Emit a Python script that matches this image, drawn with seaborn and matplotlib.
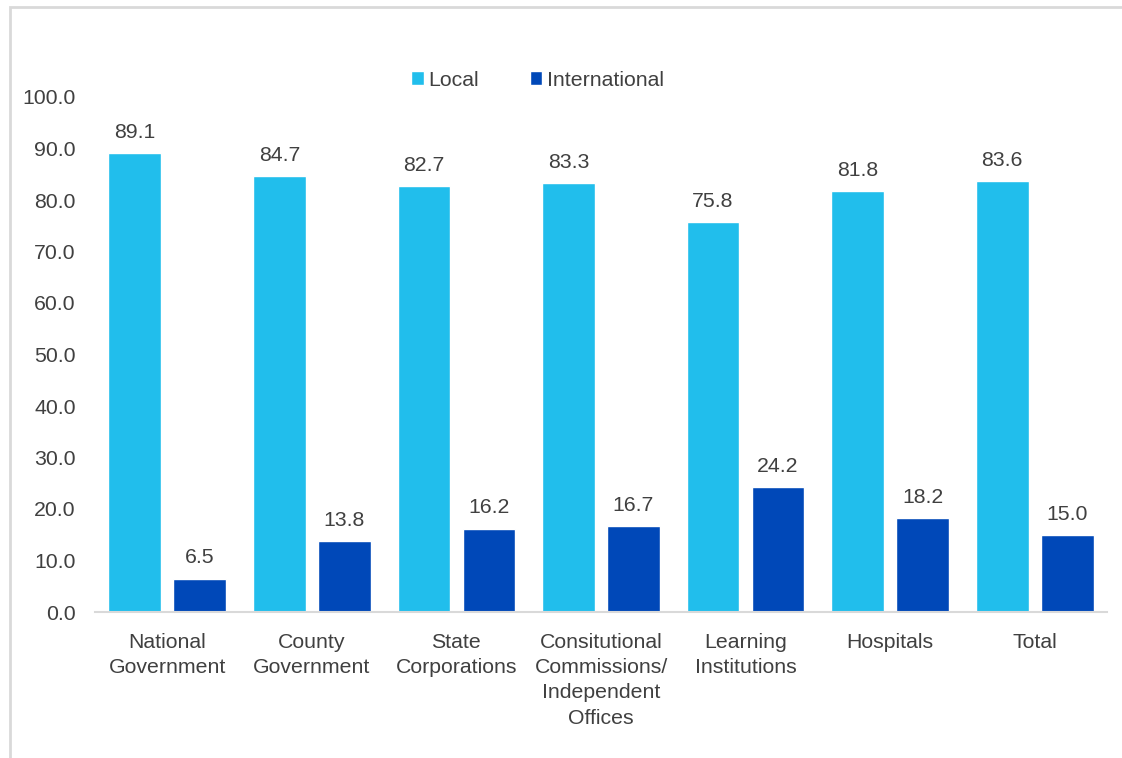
import matplotlib
matplotlib.use("Agg")
import matplotlib.pyplot as plt
import seaborn as sns
import pandas as pd
from matplotlib.patches import Rectangle

# Share of staff by origin, per sector
categories = [
    "National\nGovernment",
    "County\nGovernment",
    "State\nCorporations",
    "Consitutional\nCommissions/\nIndependent\nOffices",
    "Learning\nInstitutions",
    "Hospitals",
    "Total",
]
local = [89.1, 84.7, 82.7, 83.3, 75.8, 81.8, 83.6]
international = [6.5, 13.8, 16.2, 16.7, 24.2, 18.2, 15.0]
series_names = ["Local", "International"]
yticks = [0, 10, 20, 30, 40, 50, 60, 70, 80, 90, 100]

df = pd.DataFrame({
    "Sector": categories * 2,
    "Origin": [series_names[0]] * len(categories) + [series_names[1]] * len(categories),
    "Value": local + international,
})

sns.set_theme(style="white")
plt.rcParams["font.family"] = ["Liberation Sans", "DejaVu Sans"]
text_color = "#404040"
fs = 15.3

fig = plt.figure(figsize=(11.22, 7.58), dpi=100)
ax = fig.add_axes([95 / 1122, 1 - 612 / 758, 1012 / 1122, (612 - 97) / 758])

palette = {"Local": "#21BEEC", "International": "#0048B8"}
sns.barplot(data=df, x="Sector", y="Value", hue="Origin", order=categories,
            hue_order=series_names, palette=palette, width=0.9, gap=0.19,
            saturation=1, ax=ax, legend=True)

for cont in ax.containers:
    ax.bar_label(cont, fmt="%.1f", padding=8, fontsize=fs, color=text_color)

ax.set_xlim(-0.5, len(categories) - 0.5)
ax.set_ylim(0, 100)
ax.set_yticks(yticks)
ax.set_yticklabels([f"{v:.1f}" for v in yticks])
ax.set_xlabel("")
ax.set_ylabel("")
ax.tick_params(axis="y", length=0, pad=14, labelsize=fs, labelcolor=text_color)
ax.tick_params(axis="x", length=0, pad=15, labelsize=fs, labelcolor=text_color)
for lbl in ax.get_xticklabels():
    lbl.set_linespacing(1.42)

for side in ["left", "right", "top"]:
    ax.spines[side].set_visible(False)
ax.spines["bottom"].set_color("#D9D9D9")
ax.spines["bottom"].set_linewidth(1.5)

handles, labels = ax.get_legend_handles_labels()
ax.legend(handles, labels, loc="center", bbox_to_anchor=(0.437, 1.033), ncol=2,
          frameon=False, fontsize=fs, labelcolor=text_color,
          handlelength=0.6, handleheight=0.6, handletextpad=0.2, columnspacing=2.4)

# light frame around the chart area
fig.patches.append(Rectangle((9.5 / 1122, -0.05), 1.2, 1 - 6.5 / 758 + 0.05,
                             transform=fig.transFigure, fill=False,
                             edgecolor="#D9D9D9", linewidth=2))

fig.savefig("out.png", dpi=100)
